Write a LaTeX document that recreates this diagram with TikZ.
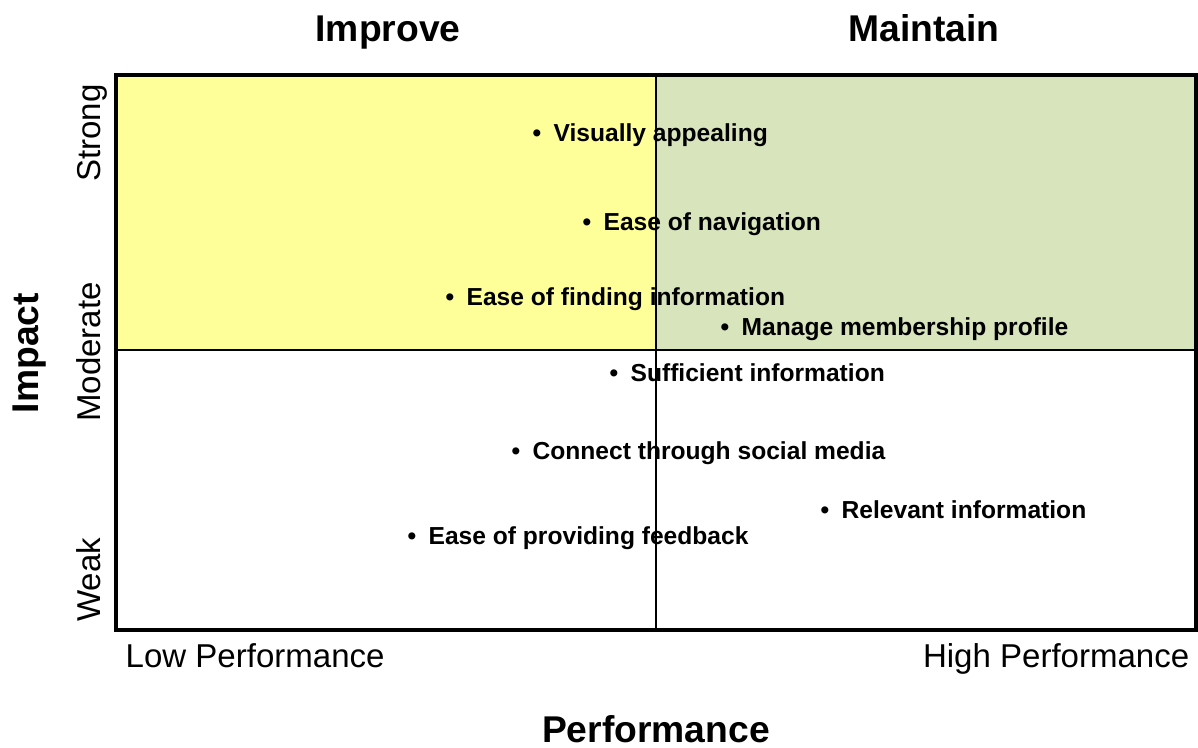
\documentclass[tikz,border=0pt]{standalone}
\usepackage{fontspec}
\setmainfont{Liberation Sans}
\definecolor{improvefill}{HTML}{FFFF99}
\definecolor{maintainfill}{HTML}{D7E4BC}

\begin{document}
\begin{tikzpicture}[
  title/.style={font=\fontsize{10.6pt}{12pt}\selectfont\bfseries, inner sep=0pt, anchor=base},
  scalelabel/.style={font=\fontsize{9.4pt}{11pt}\selectfont, inner sep=0pt},
  item/.style={font=\fontsize{7pt}{8pt}\selectfont\bfseries, anchor=base west, inner sep=0pt}
]
\useasboundingbox (0,0) rectangle (11.98,-7.48);
\coordinate (tl) at (1.16,-0.75);
\coordinate (br) at (11.96,-6.30);
\coordinate (mt) at (6.56,-0.75);
\coordinate (mb) at (6.56,-6.30);
\coordinate (ml) at (1.16,-3.50);
\coordinate (mr) at (11.96,-3.50);
% quadrants
\fill[improvefill] (tl) rectangle (6.56,-3.50);
\fill[maintainfill] (mt) rectangle (mr);
% headings
\node[title] (improve) at (3.88,-0.42) {Improve};
\node[title] (maintain) at (9.24,-0.42) {Maintain};
\node[title, rotate=90] (impact) at (0.39,-3.53) {Impact};
\node[title] (perf) at (6.56,-7.42) {Performance};
% scale labels
\node[scalelabel, rotate=90, anchor=base] (strong) at (1.00,-1.33) {Strong};
\node[scalelabel, rotate=90, anchor=base] (moderate) at (1.00,-3.52) {Moderate};
\node[scalelabel, rotate=90, anchor=base] (weak) at (1.00,-5.80) {Weak};
\node[scalelabel, anchor=base west] (lowp) at (1.25,-6.67) {Low Performance};
\node[scalelabel, anchor=base east] (highp) at (11.90,-6.67) {High Performance};
% items
\node[item] (visual) at (5.32,-1.42) {\textbullet\hspace{0.5em}Visually appealing};
\node[item] (navig) at (5.82,-2.30) {\textbullet\hspace{0.5em}Ease of navigation};
\node[item] (finding) at (4.45,-3.05) {\textbullet\hspace{0.5em}Ease of finding information};
\node[item] (member) at (7.20,-3.35) {\textbullet\hspace{0.5em}Manage membership profile};
\node[item] (suffic) at (6.09,-3.81) {\textbullet\hspace{0.5em}Sufficient information};
\node[item] (social) at (5.11,-4.59) {\textbullet\hspace{0.5em}Connect through social media};
\node[item] (relev) at (8.20,-5.18) {\textbullet\hspace{0.5em}Relevant information};
\node[item] (feedb) at (4.07,-5.44) {\textbullet\hspace{0.5em}Ease of providing feedback};
% grid lines
\draw[line width=0.6pt] (mt) -- (mb);
\draw[line width=0.6pt] (ml) -- (mr);
\draw[line width=1pt] (tl) rectangle (br);
\end{tikzpicture}
\end{document}
